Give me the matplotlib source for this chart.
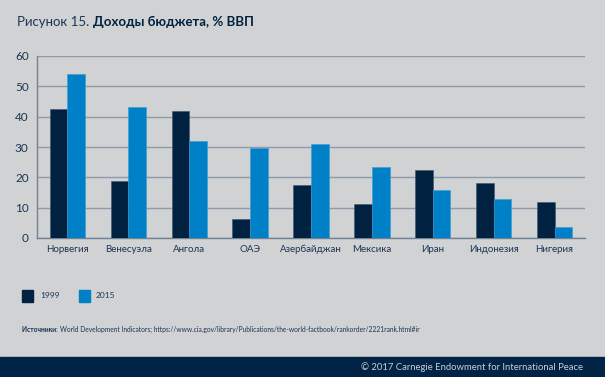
import matplotlib
matplotlib.use("Agg")
import matplotlib.pyplot as plt
import numpy as np

countries = ["Норвегия", "Венесуэла", "Ангола", "ОАЭ", "Азербайджан",
             "Мексика", "Иран", "Индонезия", "Нигерия"]
v1999 = [42.5, 18.8, 41.9, 6.4, 17.5, 11.3, 22.4, 18.0, 11.9]
v2015 = [54.1, 43.2, 32.0, 29.8, 30.9, 23.4, 15.8, 13.0, 3.6]
yticks = [0, 10, 20, 30, 40, 50, 60]

BG = "#d1d2d4"
NAVY = "#00213f"
BLUE = "#0080c6"
TEXT = "#1c3553"
GRID = "#8e9bab"
FONT = "Lato"

W, H = 605, 377
fig = plt.figure(figsize=(W / 100, H / 100), dpi=100, facecolor=BG)

ax = fig.add_axes([37 / W, (H - 238) / H, 548 / W, 182 / H])
ax.set_facecolor(BG)
x = np.arange(len(countries))
w = 0.29
ax.bar(x - w / 2, v1999, w, color=NAVY, edgecolor="#3a5670", linewidth=0.4, zorder=3)
ax.bar(x + w / 2, v2015, w, color=BLUE, edgecolor="#3a9ad6", linewidth=0.4, zorder=3)
ax.set_xlim(-0.5, len(countries) - 0.5)
ax.set_ylim(0, 60)
ax.set_yticks(yticks)
ax.set_yticklabels([str(t) for t in yticks], fontsize=8.5, color=TEXT, fontfamily=FONT)
ax.set_xticks(x)
ax.set_xticklabels(countries, fontsize=7, color=TEXT, fontfamily=FONT)
ax.tick_params(length=0, pad=6)
ax.tick_params(axis="x", pad=5)
ax.yaxis.grid(True, color=GRID, linewidth=1.0, zorder=0)
ax.set_axisbelow(True)
for s in ["top", "right"]:
    ax.spines[s].set_visible(False)
for s in ["left", "bottom"]:
    ax.spines[s].set_color("#6f8296")
    ax.spines[s].set_linewidth(1.0)

# title
t1 = fig.text(17 / W, 1 - 22 / H, "Рисунок 15. ", fontsize=9.5, color=TEXT,
              fontfamily=FONT, va="center")
fig.canvas.draw()
bb = t1.get_window_extent()
fig.text(bb.x1 / W, 1 - 22 / H, "Доходы бюджета, % ВВП", fontsize=9.5,
         color=NAVY, fontfamily=FONT, fontweight="bold", va="center")

# legend
fig.patches.append(plt.Rectangle((22 / W, 1 - 302 / H), 11 / W, 12 / H,
                                 transform=fig.transFigure, color=NAVY))
fig.text(40 / W, 1 - 295 / H, "1999", fontsize=6, color=TEXT, fontfamily=FONT, va="center")
fig.patches.append(plt.Rectangle((79 / W, 1 - 302 / H), 11 / W, 12 / H,
                                 transform=fig.transFigure, color=BLUE))
fig.text(96 / W, 1 - 295 / H, "2015", fontsize=6, color=TEXT, fontfamily=FONT, va="center")

# source
s1 = fig.text(22 / W, 1 - 329 / H, "Источники: ", fontsize=4.8, color=TEXT,
              fontfamily=FONT, fontweight="bold", va="center")
fig.canvas.draw()
bb = s1.get_window_extent()
fig.text(bb.x1 / W, 1 - 329 / H,
         "World Development Indicators; https://www.cia.gov/library/Publications/the-world-factbook/rankorder/2221rank.html#ir",
         fontsize=4.8, color=TEXT, fontfamily=FONT, va="center")

# footer band
fig.patches.append(plt.Rectangle((0, 0), 1, 20 / H, transform=fig.transFigure,
                                 color="#012345"))
fig.text(583 / W, 10 / H, "© 2017 Carnegie Endowment for International Peace",
         fontsize=6.8, color="#c9ced6", fontfamily=FONT, ha="right", va="center")

fig.savefig("out.png", dpi=100, facecolor=BG)
